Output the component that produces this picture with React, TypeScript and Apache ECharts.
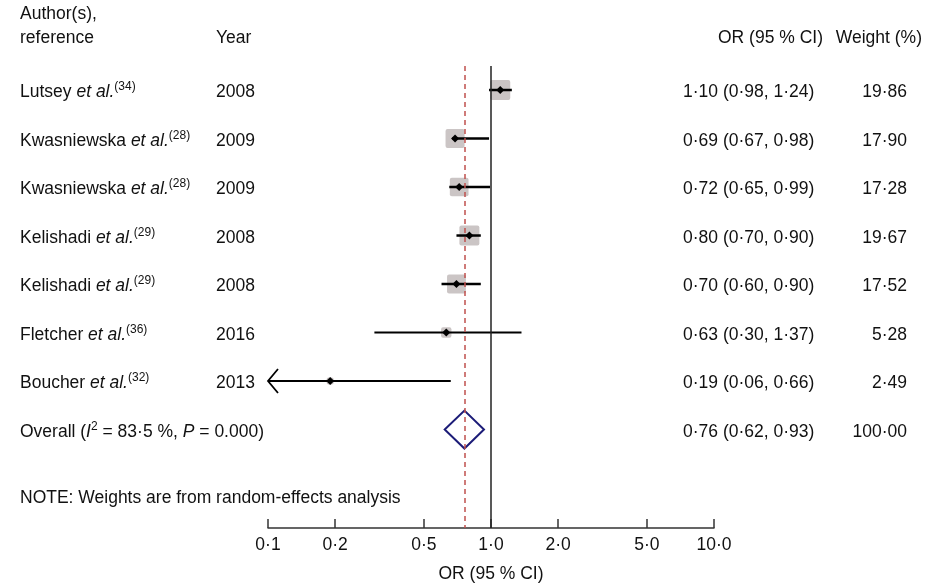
import React, { useEffect, useRef } from "react";
import * as echarts from "echarts";

const authors = ["Lutsey", "Kwasniewska", "Kwasniewska", "Kelishadi", "Kelishadi", "Fletcher", "Boucher"];
const refs = ["34", "28", "28", "29", "29", "36", "32"];
const years = ["2008", "2009", "2009", "2008", "2008", "2016", "2013"];
const orValues = [1.1, 0.69, 0.72, 0.8, 0.7, 0.63, 0.19];
const lowerCI = [0.98, 0.67, 0.65, 0.7, 0.6, 0.3, 0.06];
const upperCI = [1.24, 0.98, 0.99, 0.9, 0.9, 1.37, 0.66];
const weights = [19.86, 17.9, 17.28, 19.67, 17.52, 5.28, 2.49];
const ciLabels = [
  "1·10 (0·98, 1·24)", "0·69 (0·67, 0·98)", "0·72 (0·65, 0·99)", "0·80 (0·70, 0·90)",
  "0·70 (0·60, 0·90)", "0·63 (0·30, 1·37)", "0·19 (0·06, 0·66)",
];
const weightLabels = ["19·86", "17·90", "17·28", "19·67", "17·52", "5·28", "2·49"];
const overall = { or: 0.76, lo: 0.62, hi: 0.93, label: "0·76 (0·62, 0·93)", weight: "100·00" };
const tickValues = [0.1, 0.2, 0.5, 1, 2, 5, 10];
const tickLabels = ["0·1", "0·2", "0·5", "1·0", "2·0", "5·0", "10·0"];

const ROW0 = 91;
const STEP = 48.5;
const FONT = "Liberation Sans, Arial, sans-serif";
const FS = 17.5;

const App: React.FC = () => {
  const ref = useRef<HTMLDivElement>(null);

  useEffect(() => {
    if (!ref.current) return;
    const chart = echarts.init(ref.current, undefined, { renderer: "svg" });

    const rich = {
      i: { fontStyle: "italic", fontSize: FS, fontFamily: FONT, fill: "#111" },
      s: { fontSize: 12, fontFamily: FONT, fill: "#111", verticalAlign: "top", padding: [0, 0, 10, 0] },
    };
    const txt = (x: number, y: number, text: string, align = "left") => ({
      type: "text",
      x,
      y,
      style: { text, x: 0, y: 0, align, verticalAlign: "middle", fontSize: FS, fontFamily: FONT, fill: "#111", rich },
    });

    const texts: any[] = [
      txt(20, 13, "Author(s),"),
      txt(20, 37, "reference"),
      txt(216, 37, "Year"),
      txt(718, 37, "OR (95 % CI)"),
      txt(922, 37, "Weight (%)", "right"),
    ];
    authors.forEach((a, i) => {
      const y = ROW0 + i * STEP;
      texts.push(txt(20, y, `${a} {i|et al.}{s|(${refs[i]})}`));
      texts.push(txt(216, y, years[i]));
      texts.push(txt(683, y, ciLabels[i]));
      texts.push(txt(907, y, weightLabels[i], "right"));
    });
    const yo = ROW0 + 7 * STEP;
    texts.push(txt(20, yo, "Overall ({i|I}{s|2} = 83·5 %, {i|P} = 0.000)"));
    texts.push(txt(683, yo, overall.label));
    texts.push(txt(907, yo, overall.weight, "right"));
    texts.push(txt(20, 497, "NOTE: Weights are from random-effects analysis"));
    texts.push(txt(491, 573, "OR (95 % CI)", "center"));

    const studyData = orValues.map((v, i) => [v, lowerCI[i], upperCI[i], i, weights[i]]);

    const option: any = {
      animation: false,
      grid: { left: 268, right: 939 - 714, top: 66, bottom: 587 - 528 },
      xAxis: {
        type: "log",
        min: 0.1,
        max: 10,
        splitLine: { show: false },
        axisLine: { onZero: false, lineStyle: { color: "#333", width: 1.5 } },
        axisTick: { inside: true, length: 9, customValues: tickValues, lineStyle: { color: "#333", width: 1.5 } },
        axisLabel: {
          customValues: tickValues,
          formatter: (v: number) => tickLabels[tickValues.findIndex((t) => Math.abs(t - v) < 1e-6)] ?? "",
          fontSize: FS,
          fontFamily: FONT,
          color: "#111",
          margin: 7,
        },
      },
      yAxis: { type: "value", inverse: true, min: -0.495, max: 9.03, show: false },
      series: [
        {
          type: "custom",
          data: studyData,
          renderItem: (params: any, api: any) => {
            const row = api.value(3);
            const [cx, cy] = api.coord([api.value(0), row]);
            let lo = api.value(1);
            const arrow = lo < 0.1;
            if (arrow) lo = 0.1;
            const x1 = api.coord([lo, row])[0];
            const x2 = api.coord([api.value(2), row])[0];
            const side = 4.5 * Math.sqrt(api.value(4));
            const children: any[] = [
              { type: "rect", shape: { x: cx - side / 2, y: cy - side / 2, width: side, height: side, r: 2 }, style: { fill: "#cbc5c5" } },
              { type: "line", shape: { x1, y1: cy, x2, y2: cy }, style: { stroke: "#000", lineWidth: row >= 5 ? 2 : 2.5 } },
              { type: "polygon", shape: { points: [[cx - 4, cy], [cx, cy - 4], [cx + 4, cy], [cx, cy + 4]] }, style: { fill: "#000" } },
            ];
            if (arrow) {
              children.push({
                type: "polyline",
                shape: { points: [[x1 + 10, cy - 12], [x1, cy], [x1 + 10, cy + 12]] },
                style: { stroke: "#000", lineWidth: 1.8, fill: "none" },
              });
            }
            return { type: "group", children };
          },
          markLine: {
            silent: true,
            symbol: "none",
            label: { show: false },
            data: [
              { xAxis: 1, lineStyle: { color: "#222", width: 1.5, type: "solid" } },
              { xAxis: overall.or, lineStyle: { color: "#c0504d", width: 1.5, type: [5, 4] } },
            ],
          },
        },
        {
          type: "custom",
          data: [[overall.or, overall.lo, overall.hi, 7]],
          renderItem: (params: any, api: any) => {
            const row = api.value(3);
            const [cx, cy] = api.coord([api.value(0), row]);
            const xl = api.coord([api.value(1), row])[0];
            const xr = api.coord([api.value(2), row])[0];
            return {
              type: "polygon",
              shape: { points: [[xl, cy], [cx, cy - 19], [xr, cy], [cx, cy + 19]] },
              style: { stroke: "#1c1c78", lineWidth: 2, fill: "none" },
            };
          },
        },
      ],
      graphic: texts,
    };

    chart.setOption(option);
    return () => chart.dispose();
  }, []);

  return <div ref={ref} style={{ position: "fixed", left: 0, top: 0, width: 939, height: 587 }} />;
};

export default App;
